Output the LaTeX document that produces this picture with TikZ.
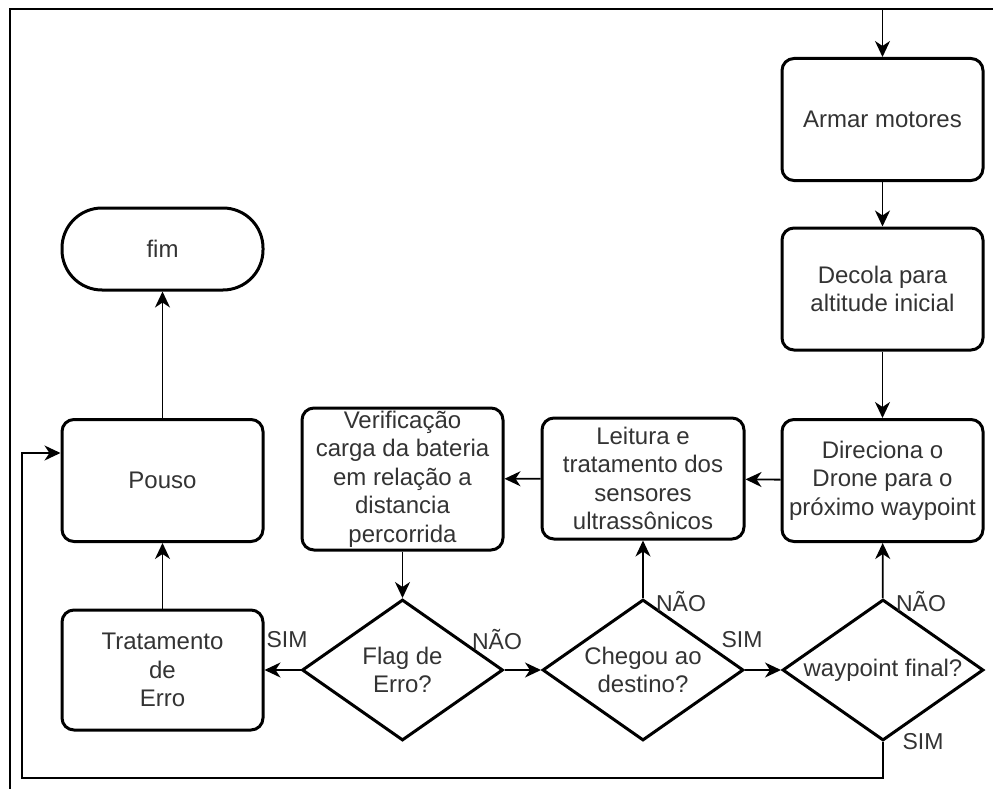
\documentclass[tikz,border=0pt]{standalone}
\usepackage{fontspec}
\setmainfont{Liberation Sans}
\usetikzlibrary{arrows.meta,shapes.geometric}
\definecolor{texto}{HTML}{333333}

\begin{document}
\begin{tikzpicture}[x=1pt, y=-1pt, >={Stealth[length=16pt,width=15pt,inset=5pt]},
        every node/.style={font=\fontsize{24}{28.5}\selectfont, text=texto},
        box node/.style={rectangle, draw, line width=3pt, rounded corners=12pt,
            minimum width=201pt, minimum height=122pt, inner sep=0pt, align=center},
        end node/.style={rectangle, draw, line width=3pt, rounded corners=40pt,
            minimum width=201pt, minimum height=82pt, inner sep=0pt},
        decision node/.style={diamond, draw, line width=3pt, aspect=1.43,
            minimum width=201pt, minimum height=141pt, inner sep=0pt},
        seta/.style={->, line width=1.8pt},
        rotulo/.style={font=\fontsize{23}{27}\selectfont, inner sep=0pt}]
    \useasboundingbox (0,0) rectangle (993,789);

    % Moldura
    \draw[line width=1.8pt] (993,9) -- (10,9) -- (10,789);

    % Blocos
    \coordinate (inicio) at (882.5,9);
    \node[box node] (armar) at (882.5,119.5) {Armar motores};
    \node[box node] (decola) at (882.5,289) {Decola para\\altitude inicial};
    \node[box node] (direciona) at (882.5,480.5) {Direciona o\\Drone para o\\próximo waypoint};
    \node[box node, minimum width=202pt, minimum height=121pt] (leitura) at (643,478.5)
        {Leitura e\\tratamento dos\\sensores\\ultrassônicos};
    \node[box node, minimum height=142pt] (verif) at (402.5,479)
        {Verificação\\carga da bateria\\em relação a\\distancia\\percorrida};
    \node[box node] (pouso) at (162.5,480.5) {Pouso};
    \node[end node] (fim) at (162.5,249) {fim};
    \node[box node, minimum height=120pt] (erro) at (162.5,670) {Tratamento\\de\\Erro};

    \node[decision node, label={[align=center]center:Flag de\\Erro?}] (flag) at (402.5,670) {};
    \node[decision node, label={[align=center]center:Chegou ao\\destino?}] (chegou) at (643,670) {};
    \node[decision node, label={center:waypoint final?}] (final) at (883,670) {};

    % Ligações
    \draw[seta] (inicio) -- (armar);
    \draw[seta] (armar) -- (decola);
    \draw[seta] (decola) -- (direciona);
    \draw[seta] (direciona) -- (leitura);
    \draw[seta] (leitura) -- (verif);
    \draw[seta] (verif) -- (flag);
    \draw[seta] (flag) -- (erro);
    \draw[seta] (flag) -- (chegou);
    \draw[seta] (chegou) -- (leitura);
    \draw[seta] (chegou) -- (final);
    \draw[seta] (final) -- (direciona);
    \draw[seta] (final.south) |- (22,778) |- ([yshift=27.5pt]pouso.west);
    \draw[seta] (erro) -- (pouso);
    \draw[seta] (pouso) -- (fim);

    % Rótulos
    \node[rotulo] (simflag) at (287,640) {SIM};
    \node[rotulo] (naoflag) at (497,640) {NÃO};
    \node[rotulo] (naochegou) at (681,602) {NÃO};
    \node[rotulo] (simchegou) at (742,640) {SIM};
    \node[rotulo] (naofinal) at (921,602) {NÃO};
    \node[rotulo] (simfinal) at (923,742) {SIM};
\end{tikzpicture}
\end{document}
